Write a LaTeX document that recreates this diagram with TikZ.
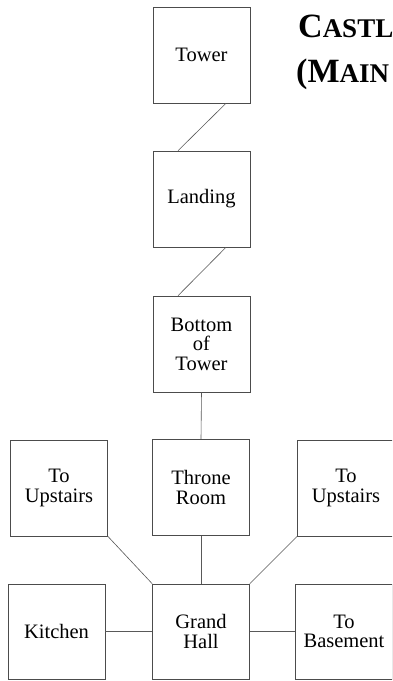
\documentclass[tikz,border=0pt]{standalone}
\usepackage{fontspec}
\setmainfont{Liberation Serif}
\usetikzlibrary{calc}
\tikzset{
  room/.style={draw=black!70, line width=0.7pt, rectangle, minimum width=97pt, minimum height=96pt,
    inner sep=0pt, align=center, font=\fontsize{20.5}{19.5}\selectfont, text=black},
  link/.style={draw=black!65, line width=0.6pt},
  titlebig/.style={inner sep=0pt, anchor=base west, font=\bfseries\fontsize{34}{36}\selectfont}
}
\newcommand{\bigsc}[2]{#1{\fontsize{27}{29}\selectfont #2}}
\begin{document}
\begin{tikzpicture}[x=1pt,y=-1pt]
\clip (0,0) rectangle (392,681);
\fill[white] (0,0) rectangle (392,681);
% column
\node[room] (tower) at (201.5,55) {Tower};
\node[room] (landing) at (201.5,199) {Landing};
\node[room] (bottom) at (201.5,344) {Bottom\\of\\Tower};
\node[room] (throne) at (201,487.5) {Throne\\Room};
\node[room, minimum height=95pt] (grand) at (201,631.5) {Grand\\Hall};
% sides
\node[room] (upl) at (59,488) {To\\Upstairs};
\node[room, minimum height=95pt] (kitchen) at (56.5,631.5) {Kitchen};
\node[room] (upr) at (346,488) {To\\Upstairs};
\node[room, minimum height=95pt] (basement) at (344,631.5) {To\\Basement};
% title
\node[titlebig] (t1) at (298,37) {\bigsc{C}{ASTLE}};
\node[titlebig] (t2) at (296,82) {\bigsc{(M}{AIN}};
% connectors
\draw[link] ($(tower.south west)!0.75!(tower.south east)$) -- ($(landing.north west)!0.26!(landing.north east)$);
\draw[link] ($(landing.south west)!0.75!(landing.south east)$) -- ($(bottom.north west)!0.26!(bottom.north east)$);
\draw[link] (bottom.south) -- (throne.north);
\draw[link] (throne.south) -- (grand.north);
\draw[link] (upl.south east) -- (grand.north west);
\draw[link] (upr.south west) -- (grand.north east);
\draw[link] (kitchen.east) -- (grand.west);
\draw[link] (grand.east) -- (basement.west);
\end{tikzpicture}
\end{document}
